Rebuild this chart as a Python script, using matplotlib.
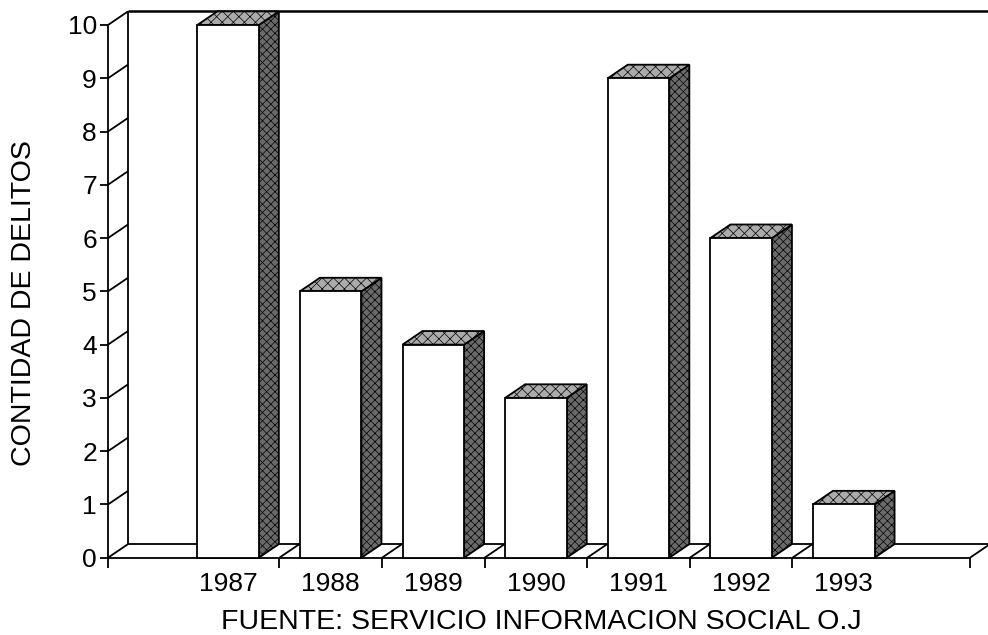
import matplotlib
matplotlib.use("Agg")
import matplotlib.pyplot as plt
from matplotlib.patches import Polygon

plt.rcParams['font.family'] = ['Liberation Sans', 'DejaVu Sans']
plt.rcParams['hatch.linewidth'] = 0.5

# datos
years = ["1987", "1988", "1989", "1990", "1991", "1992", "1993"]
delitos = [10, 5, 4, 3, 9, 6, 1]
y_ticks = list(range(0, 11))

# geometría 3D (en unidades de datos)
DX, DY = 0.195, 0.255
HALF_W = 0.30
X_LEFT, X_RIGHT = -1.17, 7.23
LW = 1.3

fig = plt.figure(figsize=(9.88, 6.35), dpi=100)
ax = fig.add_axes([108 / 988, (635 - 557.7) / 635, 862 / 988, (557.7 - 25) / 635])
ax.set_xlim(X_LEFT, X_RIGHT)
ax.set_ylim(0, 10)

# pared lateral y piso
def line(xs, ys, lw=LW, z=1):
    ax.plot(xs, ys, color='black', lw=lw, clip_on=False, zorder=z, solid_capstyle='butt')

line([X_LEFT + DX, X_LEFT + DX], [DY, 10 + DY])
line([X_LEFT + DX, X_RIGHT + DX], [10 + DY, 10 + DY], lw=1.8)
line([X_LEFT + DX, X_RIGHT + DX], [DY, DY])
line([X_RIGHT, X_RIGHT + DX], [0, DY])
for v in y_ticks:
    line([X_LEFT, X_LEFT + DX], [v, v + DY])
for i in range(len(years) - 1):
    b = i + 0.5
    line([b, b + DX], [0, DY])

# barras 3D
for i, v in enumerate(delitos):
    x0, x1 = i - HALF_W, i + HALF_W
    z = 3 + i
    side = Polygon([(x1, 0), (x1 + DX, DY), (x1 + DX, v + DY), (x1, v)],
                   closed=True, facecolor='#6a6a6a', edgecolor='black', lw=LW,
                   hatch='xxxx', clip_on=False, zorder=z)
    top = Polygon([(x0, v), (x0 + DX, v + DY), (x1 + DX, v + DY), (x1, v)],
                  closed=True, facecolor='#ababab', edgecolor='black', lw=LW,
                  hatch='xxx', clip_on=False, zorder=z)
    front = Polygon([(x0, 0), (x0, v), (x1, v), (x1, 0)],
                    closed=True, facecolor='white', edgecolor='black', lw=LW,
                    clip_on=False, zorder=z + 0.5)
    for p in (side, top, front):
        ax.add_patch(p)

# ejes
for s in ('top', 'right'):
    ax.spines[s].set_visible(False)
for s in ('left', 'bottom'):
    ax.spines[s].set_linewidth(LW)

ax.set_yticks(y_ticks)
ax.tick_params(axis='y', direction='out', length=6, width=LW, pad=2, labelsize=19)
ax.set_xticks(range(len(years)))
ax.set_xticklabels(years)
ax.set_xticks([X_LEFT] + [i + 0.5 for i in range(len(years) - 1)] + [X_RIGHT], minor=True)
ax.tick_params(axis='x', which='major', length=0, pad=10, labelsize=19)
ax.tick_params(axis='x', which='minor', direction='out', length=7, width=LW)

ax.set_ylabel("CONTIDAD DE DELITOS", fontsize=20.5, va='center')
ax.yaxis.set_label_coords(-0.0974, 0.478)
ax.set_xlabel("FUENTE: SERVICIO INFORMACION SOCIAL O.J", fontsize=20.5, va='center')
ax.xaxis.set_label_coords(0.503, -0.121)

fig.savefig("out.png", dpi=100)
